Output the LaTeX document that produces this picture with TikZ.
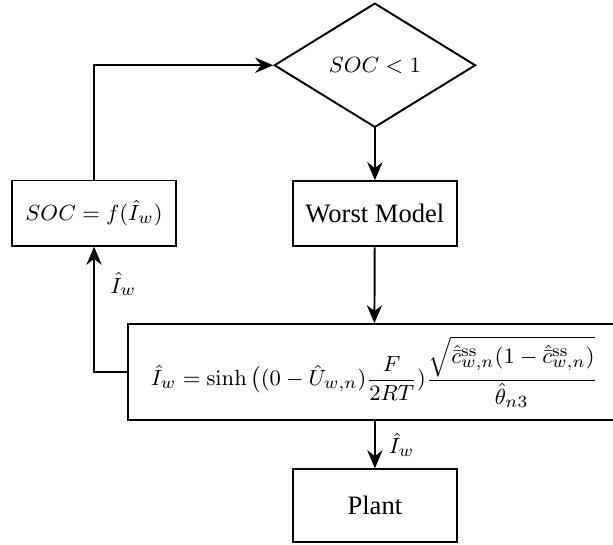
\documentclass[tikz,border=0pt]{standalone}
\usepackage[no-math]{fontspec}
\setmainfont{Liberation Serif}
\usepackage{amsmath}
\usetikzlibrary{shapes.geometric,arrows.meta}
\tikzset{
	block/.style={draw, thick, minimum width=2.36cm, minimum height=0.94cm},
	decision/.style={draw, thick, diamond, aspect=1.62, minimum width=2.9cm, minimum height=1.79cm, inner sep=1pt},
	flow/.style={thick, -{Stealth[length=2.6mm, width=2.2mm]}},
	word/.style={font=\fontsize{10.9}{13}\selectfont}
	}

\begin{document}
\begin{tikzpicture}[scale=1.0, font=\fontsize{9.3}{11.2}\selectfont]

	\useasboundingbox (0,0) rectangle (8.83,7.84);

	% check and model
	\node[decision] (check) at (5.40,6.90) {$SOC<1$};
	\node[block, word] (worst) at (5.40,4.76) {Worst Model};
	\node[block] (soc) at (1.355,4.77) {$SOC=f(\hat{I}_w)$};

	% current law
	\node[draw, thick, minimum width=7.09cm, minimum height=1.38cm] (law) at (5.39,2.48)
		{$\displaystyle \hat{I}_w=\sinh\big((0-\hat{U}_{w,n})\frac{F}{2RT})\frac{\sqrt{\hat{\bar{c}}^{\mathrm{ss}}_{w,n}(1-\hat{\bar{c}}^{\mathrm{ss}}_{w,n})}}{\hat{\theta}_{n3}}$};

	\node[block, word, minimum height=1.05cm] (plant) at (5.40,0.555) {Plant};

	% connections
	\draw[flow] (check) -- (worst);
	\draw[flow] (worst) -- (law);
	\draw[flow] (soc.north) |- (check.west);
	\draw[flow] (law.west) -| node[right, pos=0.85, xshift=3pt] {$\hat{I}_w$} (soc.south);
	\draw[flow] (law.south -| plant.north) -- node[right, xshift=2pt] {$\hat{I}_w$} (plant.north);

\end{tikzpicture}
\end{document}
